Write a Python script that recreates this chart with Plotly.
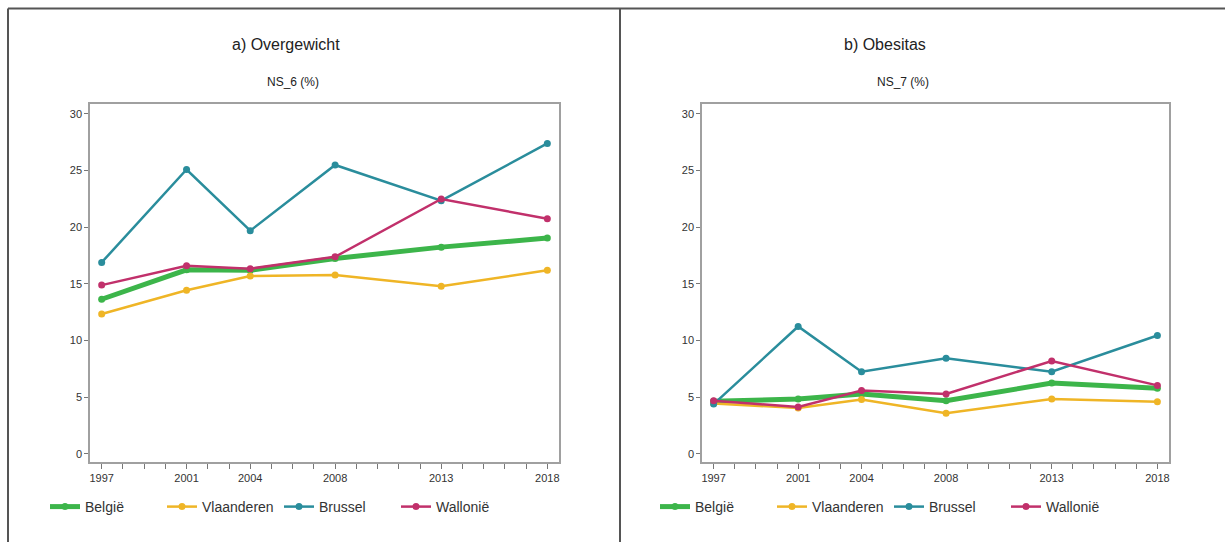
import plotly.graph_objects as go

W, H = 1225, 542

years = [1997, 2001, 2004, 2008, 2013, 2018]
tick_labels = ["1997", "2001", "2004", "2008", "2013", "2018"]
regions = ["België", "Vlaanderen", "Brussel", "Wallonië"]

overgewicht_belgie = [13.65, 16.25, 16.2, 17.25, 18.25, 19.05]
overgewicht_vlaanderen = [12.35, 14.45, 15.7, 15.8, 14.8, 16.2]
overgewicht_brussel = [16.9, 25.1, 19.7, 25.5, 22.35, 27.4]
overgewicht_wallonie = [14.9, 16.6, 16.35, 17.4, 22.5, 20.75]

obesitas_belgie = [4.65, 4.85, 5.3, 4.7, 6.25, 5.8]
obesitas_vlaanderen = [4.45, 4.05, 4.8, 3.6, 4.85, 4.6]
obesitas_brussel = [4.4, 11.25, 7.25, 8.45, 7.25, 10.45]
obesitas_wallonie = [4.7, 4.15, 5.6, 5.3, 8.2, 6.05]

colors = {"België": "#3cb54a", "Vlaanderen": "#efb526",
          "Brussel": "#2a8d9c", "Wallonië": "#c1306b"}
widths = {"België": 5, "Vlaanderen": 2.5, "Brussel": 2.5, "Wallonië": 2.5}

panels = [
    dict(title="a) Overgewicht", sub="NS_6 (%)", xa="x", ya="y", leg="legend",
         data=[overgewicht_belgie, overgewicht_vlaanderen, overgewicht_brussel, overgewicht_wallonie]),
    dict(title="b) Obesitas", sub="NS_7 (%)", xa="x2", ya="y2", leg="legend2",
         data=[obesitas_belgie, obesitas_vlaanderen, obesitas_brussel, obesitas_wallonie]),
]

fig = go.Figure()
for p in panels:
    for name, vals in zip(regions, p["data"]):
        fig.add_trace(go.Scatter(
            x=years, y=vals, name=name, mode="lines+markers",
            line=dict(color=colors[name], width=widths[name]),
            marker=dict(color=colors[name], size=7),
            xaxis=p["xa"], yaxis=p["ya"], legend=p["leg"],
        ))

def px(x):
    return x / W

def py(y):
    return 1 - y / H

font_family = "Liberation Sans, Arial, sans-serif"
tc = "#333333"

xcommon = dict(range=[1996.45, 2018.55], tickmode="array", tickvals=years, ticktext=tick_labels,
               ticks="outside", ticklen=5, tickcolor="#777", showline=True, mirror=True,
               linecolor="#a0a0a0", linewidth=1.5, showgrid=False, zeroline=False,
               tickfont=dict(size=11, color=tc, family=font_family),
               minor=dict(dtick=1, tick0=1997, ticks="outside", ticklen=5, tickcolor="#777", showgrid=False))
ycommon = dict(range=[-0.71, 30.88], tickvals=[0, 5, 10, 15, 20, 25, 30], ticks="outside",
               ticklen=4, tickcolor="#777", showline=True, mirror=True, linecolor="#a0a0a0",
               linewidth=1.5, showgrid=False, zeroline=False,
               tickfont=dict(size=11, color=tc, family=font_family))

ydom = [py(462), py(104)]
fig.update_layout(
    width=W, height=H, margin=dict(l=0, r=0, t=0, b=0, autoexpand=False),
    paper_bgcolor="white", plot_bgcolor="white",
    font=dict(family=font_family, color=tc),
    xaxis=dict(domain=[px(90), px(559)], anchor="y", **xcommon),
    yaxis=dict(domain=ydom, anchor="x", **ycommon),
    xaxis2=dict(domain=[px(702), px(1169)], anchor="y2", **xcommon),
    yaxis2=dict(domain=ydom, anchor="x2", **ycommon),
    legend=dict(orientation="h", x=px(45), y=py(507), xanchor="left", yanchor="middle",
                entrywidth=72, entrywidthmode="pixels", font=dict(size=14, color=tc),
                bgcolor="rgba(0,0,0,0)", itemclick=False),
    legend2=dict(orientation="h", x=px(655), y=py(507), xanchor="left", yanchor="middle",
                 entrywidth=72, entrywidthmode="pixels", font=dict(size=14, color=tc),
                 bgcolor="rgba(0,0,0,0)", itemclick=False),
    showlegend=True,
)

annos = [
    dict(text="a) Overgewicht", x=px(286), y=py(45), size=16),
    dict(text="NS_6 (%)", x=px(293), y=py(82), size=12),
    dict(text="b) Obesitas", x=px(885), y=py(45), size=16),
    dict(text="NS_7 (%)", x=px(903), y=py(82), size=12),
]
for a in annos:
    fig.add_annotation(text=a["text"], x=a["x"], y=a["y"], xref="paper", yref="paper",
                       xanchor="center", yanchor="middle", showarrow=False,
                       font=dict(size=a["size"], color="#222", family=font_family))

border = dict(color="#555555", width=2)
fig.add_shape(type="line", xref="paper", yref="paper", x0=px(8), x1=1, y0=py(8.5), y1=py(8.5), line=border)
fig.add_shape(type="line", xref="paper", yref="paper", x0=px(8), x1=px(8), y0=py(8.5), y1=0, line=border)
fig.add_shape(type="line", xref="paper", yref="paper", x0=px(620), x1=px(620), y0=py(8.5), y1=0, line=border)

fig.write_html("out.html")
